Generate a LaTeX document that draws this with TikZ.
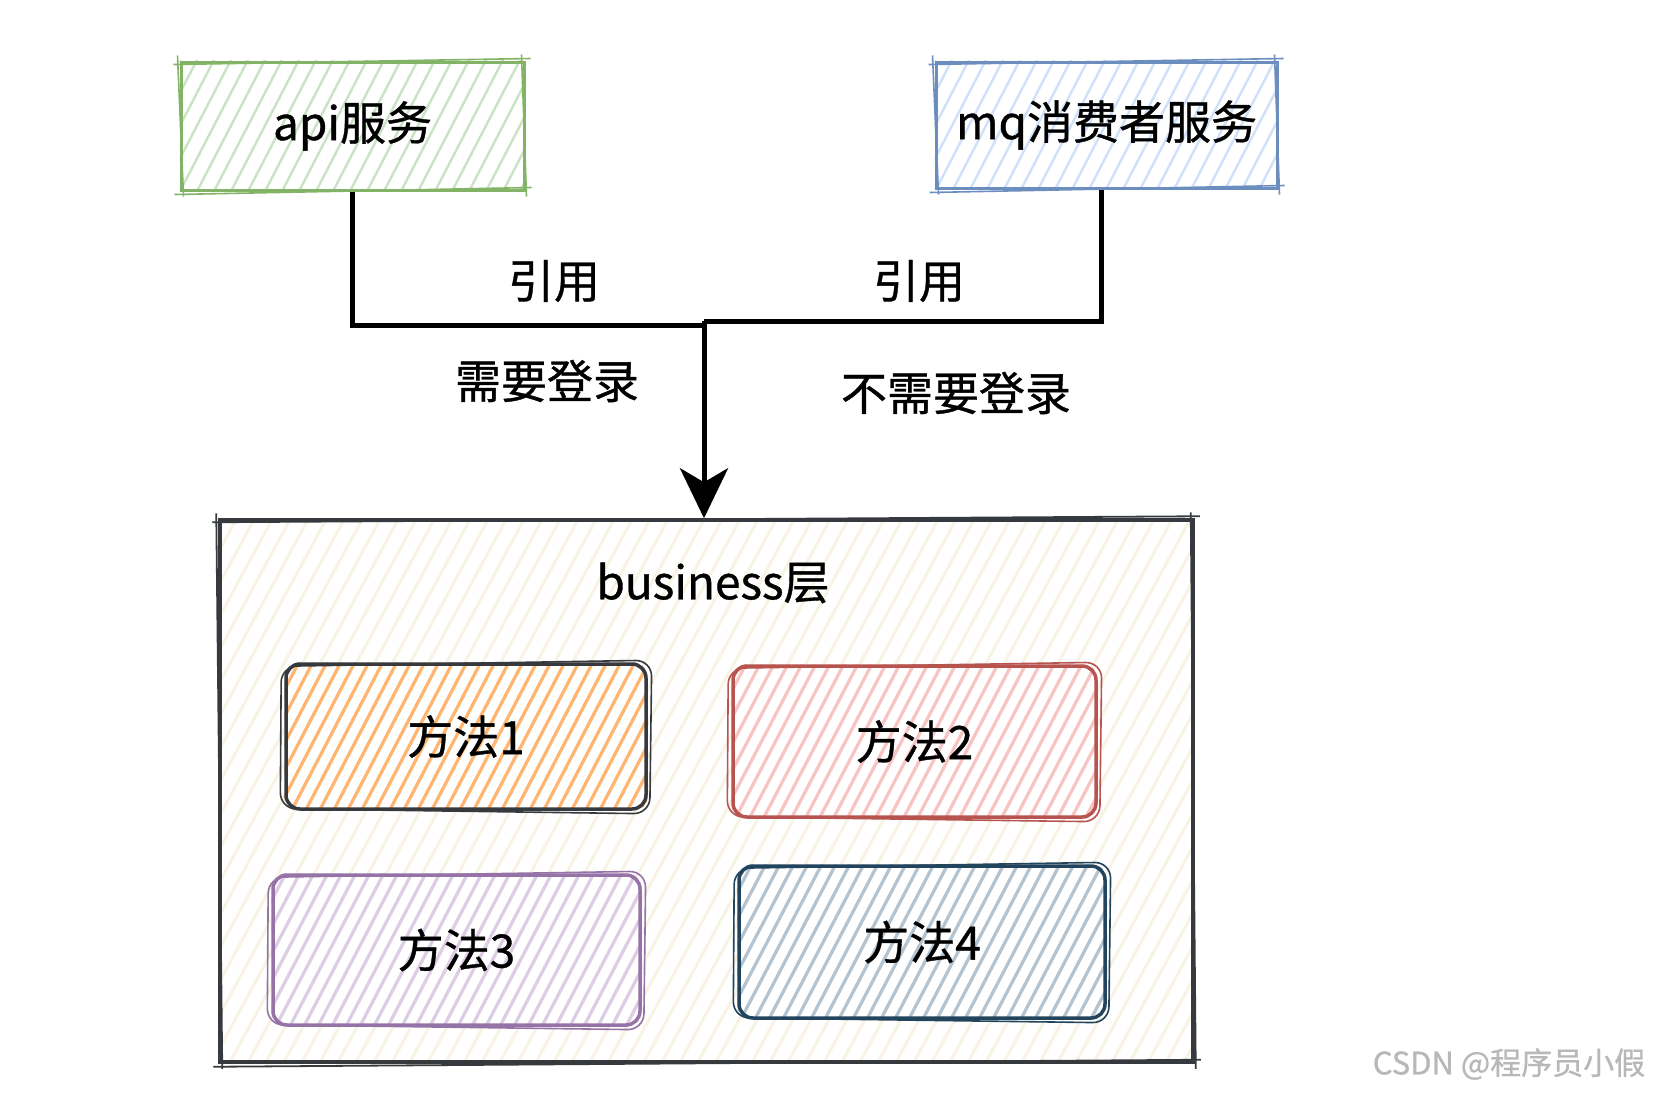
\documentclass[tikz,border=0pt]{standalone}
\usepackage{fontspec}
\setmainfont{Noto Sans CJK SC}[FakeBold=0.8]
\usetikzlibrary{arrows.meta,backgrounds}
\definecolor{apiS}{HTML}{82B366}
\definecolor{apiF}{HTML}{C9E3C4}
\definecolor{mqS}{HTML}{6C8EBF}
\definecolor{mqF}{HTML}{CFE1FA}
\definecolor{busS}{HTML}{36393D}
\definecolor{busF}{HTML}{F8F3E4}
\definecolor{m1F}{HTML}{FFB570}
\definecolor{m2S}{HTML}{B85450}
\definecolor{m2F}{HTML}{F8C4C2}
\definecolor{m3S}{HTML}{9673A6}
\definecolor{m3F}{HTML}{DCCDE4}
\definecolor{m4S}{HTML}{23445D}
\definecolor{m4F}{HTML}{B3C3D0}
\tikzset{
  lbl/.style={font=\fontsize{46}{55}\selectfont, inner sep=0pt, text=black},
  sbox/.style={draw=#1, line width=3pt, inner sep=0pt},
  rbox/.style={draw=#1, line width=3.5pt, rounded corners=14pt, inner sep=0pt},
  conn/.style={line width=5pt, black},
  mark text/.style={font=\fontsize{31}{36}\selectfont, text=black!28, inner sep=0pt},
}
% #1 node, #2 x1, #3 y1 (top), #4 x2, #5 y2 (bottom), #6 colour, #7 gap, #8 corner radius, #9 line width
\newcommand\hatchfill[9]{%
  \begin{scope}
    \clip[rounded corners=#8] (#1.south west) rectangle (#1.north east);
    \pgfmathsetmacro\hw{0.55*(#5-#3)}
    \pgfmathsetmacro\hs{#2-\hw}
    \pgfmathsetmacro\hn{\hs+#7}
    \foreach \t in {\hs,\hn,...,#4} {\draw[#6, line width=#9] (\t,#5+4) -- ({\t+\hw},#3-4);}
  \end{scope}}
\newcommand\sketchS[3]{%
  \draw[#2, line width=#3] ([shift={(-6,4)}]#1.north west) -- ([shift={(5,-2)}]#1.north east);
  \draw[#2, line width=#3] ([shift={(-4,-6)}]#1.north east) -- ([shift={(1,5)}]#1.south east);
  \draw[#2, line width=#3] ([shift={(6,-4)}]#1.south east) -- ([shift={(-5,3)}]#1.south west);
  \draw[#2, line width=#3] ([shift={(4,5)}]#1.south west) -- ([shift={(-2,-5)}]#1.north west);}
\newcommand\sketchR[3]{%
  \draw[#2, line width=#3, rounded corners=16pt] ([shift={(-3,4)}]#1.north west) -- ([shift={(4,-2)}]#1.north east) -- ([shift={(2,3)}]#1.south east) -- ([shift={(-4,-2)}]#1.south west) -- cycle;}
\begin{document}
\begin{tikzpicture}[x=1pt,y=-1pt]
\useasboundingbox (0,0) rectangle (1655,1096);

% top boxes
\node[sbox=apiS, lbl, minimum width=343pt, minimum height=128pt] (api) at (352.5,126) {api服务};
\node[sbox=mqS, lbl, minimum width=341pt, minimum height=126pt] (mq) at (1106.5,125) {mq消费者服务};

% business layer
\node[sbox=busS, line width=3.5pt, minimum width=973pt, minimum height=542pt] (bus) at (706.5,791) {};
\node[lbl] (blabel) at (713,583) {business层};

% methods
\node[rbox=busS, lbl, minimum width=360pt, minimum height=145pt] (m1) at (466,736.5) {方法1};
\node[rbox=m2S, lbl, minimum width=363pt, minimum height=151pt] (m2) at (914.5,741.5) {方法2};
\node[rbox=m3S, lbl, minimum width=367pt, minimum height=150pt] (m3) at (456.5,950) {方法3};
\node[rbox=m4S, lbl, minimum width=366pt, minimum height=152pt] (m4) at (922,942) {方法4};

% sketchy extra strokes
\sketchS{api}{apiS}{1.6pt}
\sketchS{mq}{mqS}{1.6pt}
\sketchS{bus}{busS}{1.8pt}
\sketchR{m1}{busS}{1.6pt}
\sketchR{m2}{m2S}{1.6pt}
\sketchR{m3}{m3S}{1.6pt}
\sketchR{m4}{m4S}{1.6pt}

% hatch fills
\begin{pgfonlayer}{background}
  \fill[white] (0,0) rectangle (1655,1096);
  \hatchfill{api}{181}{62}{524}{190}{apiF}{17}{0pt}{2.4pt}
  \hatchfill{mq}{936}{62}{1277}{188}{mqF}{17}{0pt}{2.4pt}
  \hatchfill{bus}{220}{520}{1193}{1062}{busF}{18}{0pt}{3pt}
  \fill[white, rounded corners=14pt] (m1.south west) rectangle (m1.north east);
  \fill[white, rounded corners=14pt] (m2.south west) rectangle (m2.north east);
  \fill[white, rounded corners=14pt] (m3.south west) rectangle (m3.north east);
  \fill[white, rounded corners=14pt] (m4.south west) rectangle (m4.north east);
  \hatchfill{m1}{286}{664}{646}{809}{m1F}{14}{14pt}{3.2pt}
  \hatchfill{m2}{733}{666}{1096}{817}{m2F}{14}{14pt}{3.2pt}
  \hatchfill{m3}{273}{875}{640}{1025}{m3F}{14}{14pt}{3.2pt}
  \hatchfill{m4}{739}{866}{1105}{1018}{m4F}{14}{14pt}{3.2pt}
\end{pgfonlayer}

% connectors
\coordinate (jl) at (704,325);
\coordinate (jr) at (704,321);
\draw[conn] (api.south) |- (jl);
\draw[conn] ([xshift=-5pt]mq.south) |- (jr);
\draw[conn, -{Stealth[length=50pt, width=48pt, inset=14pt]}] (jr) -- (jr |- bus.north);

% labels
\node[lbl] (ref1) at (554,281) {引用};
\node[lbl] (ref2) at (919,281) {引用};
\node[lbl] (need) at (547,381) {需要登录};
\node[lbl] (noneed) at (956,393) {不需要登录};

% watermark
\node[mark text] (wm) at (1509,1064) {CSDN @程序员小假};
\end{tikzpicture}
\end{document}
